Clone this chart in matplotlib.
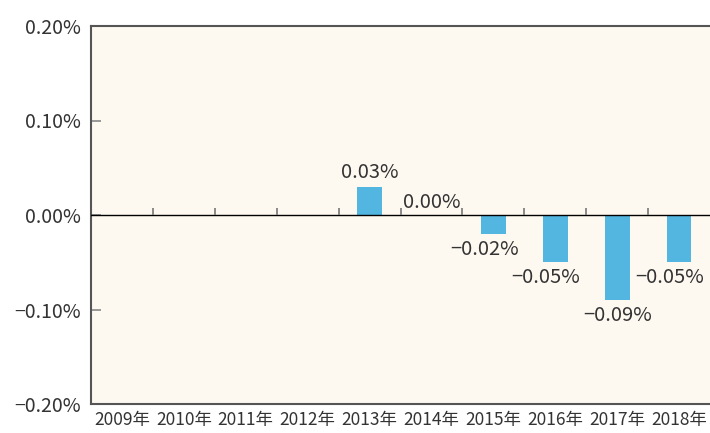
import matplotlib
matplotlib.use('Agg')
import matplotlib.pyplot as plt
import numpy as np

plt.rcParams['font.family'] = ['Noto Sans CJK JP', 'DejaVu Sans']

# data (percent)
years = ['2009年', '2010年', '2011年', '2012年', '2013年',
         '2014年', '2015年', '2016年', '2017年', '2018年']
values = [None, None, None, None, 0.03, 0.00, -0.02, -0.05, -0.09, -0.05]
yticks = [-0.20, -0.10, 0.00, 0.10, 0.20]

bar_color = '#52b6e0'
bg_color = '#fdf8f0'
spine_color = '#555555'
text_color = '#333333'


def fmt(v):
    return ('−' if v < 0 else '') + '%.2f%%' % abs(v)


fig = plt.figure(figsize=(7.10, 4.33), dpi=100)
ax = fig.add_axes([91 / 710, 29 / 433, 619 / 710, 378 / 433])
ax.set_facecolor(bg_color)

x = np.arange(len(years))
for xi, v in zip(x, values):
    if v is None:
        continue
    if v != 0:
        ax.bar(xi, v, width=0.4, color=bar_color, zorder=2)
    if v > 0:
        ax.text(xi, v + 0.004, fmt(v), ha='center', va='bottom', fontsize=14.5, color=text_color)
    elif v == 0:
        ax.text(xi, 0.002, fmt(v), ha='center', va='bottom', fontsize=14.5, color=text_color)
    else:
        dx = 0 if v <= -0.08 else -0.15
        ax.text(xi + dx, v - 0.005, fmt(v), ha='center', va='top', fontsize=14.5, color=text_color)

ax.set_xlim(-0.5, len(years) - 0.5)
ax.set_ylim(-0.20, 0.20)

# zero line with small category ticks
ax.axhline(0, color='black', lw=1.0, zorder=3)
ax.vlines(x[:-1] + 0.5, 0, 0.0075, color='#777777', lw=1.2, zorder=3)

ax.set_yticks(yticks)
ax.set_yticklabels([fmt(t) for t in yticks], fontsize=14, color=text_color)
ax.tick_params(axis='y', direction='in', length=7, width=1.2, color='#888888', pad=7)
ax.set_xticks(x)
ax.set_xticklabels(years, fontsize=12.5, color=text_color)
ax.tick_params(axis='x', length=0, pad=5)

for s in ['left', 'top', 'bottom']:
    ax.spines[s].set_color(spine_color)
    ax.spines[s].set_linewidth(1.5)
ax.spines['right'].set_visible(False)

fig.savefig('out.png', dpi=100)
